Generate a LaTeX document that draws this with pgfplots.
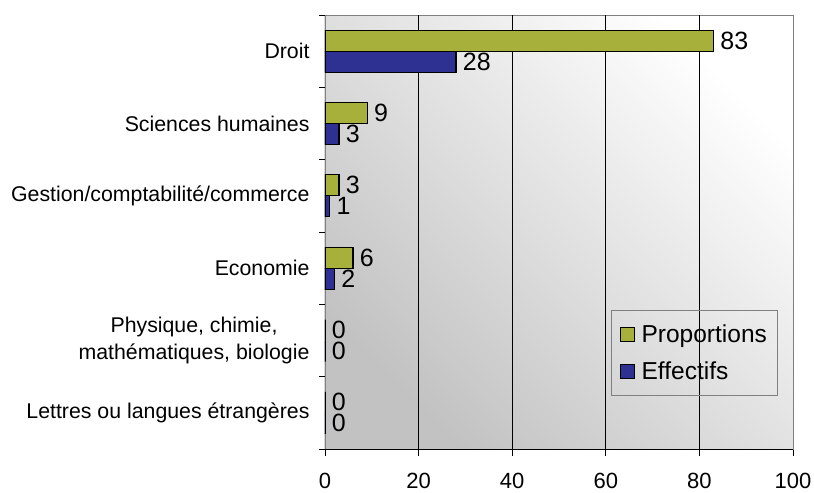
\documentclass[border=0pt]{standalone}
\usepackage{fontspec}
\setmainfont{Liberation Sans}
\usepackage{pgfplots}
\pgfplotsset{compat=1.18}
\definecolor{propcol}{RGB}{168,176,60}
\definecolor{effcol}{RGB}{46,49,146}
\begin{document}
\begin{tikzpicture}
  \begin{axis}[%
      scale only axis,
      width=468bp, height=434bp,
      xbar, bar width=21bp,
      xmin=0, xmax=100,
      ymin=-0.5, ymax=5.5, y dir=reverse,
      /pgf/number format/assume math mode=true,
      axis background/.style={shade, top color=white, bottom color=gray!48,
        shading angle=-45},
      axis line style={gray},
      tick pos=left, tick align=outside,
      major tick length=7bp, minor tick length=6bp,
      every tick/.style={black, line width=0.8bp},
      xtick={0,20,...,100},
      extra x ticks={20,40,60,80}, extra x tick labels={},
      extra x tick style={grid=major},
      grid style={black, line width=0.6bp},
      xticklabel style={font=\fontsize{22bp}{24bp}\selectfont, yshift=-14bp},
      ytick={0,...,5},
      yticklabels={Droit, Sciences humaines, Gestion/comptabilité/commerce,
        Economie, {Physique, chimie,\\mathématiques, biologie},
        Lettres ou langues étrangères},
      yticklabel style={font=\fontsize{21.3bp}{27bp}\selectfont, align=center,
        xshift=-5bp},
      minor ytick={-0.5,0.5,...,5.5},
      major y tick style={draw=none},
      nodes near coords,
      nodes near coords style={font=\fontsize{25bp}{25bp}\selectfont,
        anchor=west, xshift=3bp},
      legend cell align=left,
      legend style={at={(0.966,0.124)}, anchor=south east,
        draw=gray, fill=none, font=\fontsize{24.5bp}{26bp}\selectfont,
        inner xsep=8bp, inner ysep=12bp, row sep=14bp},
      legend image code/.code={\draw[#1, draw=black, line width=1bp]
        (0bp,-7bp) rectangle (14bp,7bp); \path (19bp,0bp);},
    ]
    \addplot[draw=black, line width=1.2bp, fill=propcol, bar shift=10.5bp]
      coordinates {(83,0) (9,1) (3,2) (6,3) (0,4) (0,5)};
    \addplot[draw=black, line width=1.2bp, fill=effcol, bar shift=-10.5bp]
      coordinates {(28,0) (3,1) (1,2) (2,3) (0,4) (0,5)};
    \legend{Proportions, Effectifs}
    \draw[black, line width=1bp] (rel axis cs:0,1) -- (rel axis cs:0,0)
      -- (rel axis cs:1,0);
    \coordinate (sw) at (rel axis cs:0,0);
  \end{axis}
  \pgfresetboundingbox
  \path[use as bounding box] (sw) ++(-325bp,-44bp) rectangle ++(814bp,493bp);
\end{tikzpicture}
\end{document}
